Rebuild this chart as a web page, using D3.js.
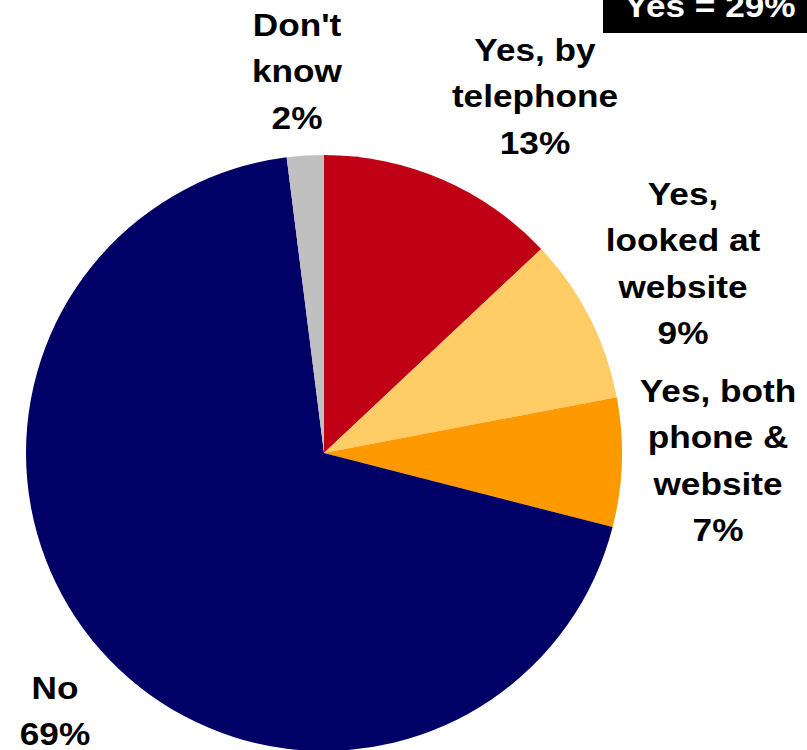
<!DOCTYPE html>
<html>
<head>
<meta charset="utf-8">
<script src="https://cdn.jsdelivr.net/npm/d3@7"></script>
<style>
  html, body { margin: 0; padding: 0; background: #fff; overflow: hidden; }
  svg { display: block; }
</style>
</head>
<body>
<svg id="chart" width="807" height="750"></svg>
<script>
const categories = ["Yes, by telephone", "Yes, looked at website", "Yes, both phone & website", "No", "Don't know"];
const values = [13, 9, 7, 69, 2];
const colors = ["#C00014", "#FFCC66", "#FF9900", "#000066", "#C0C0C0"];
const labelLines = [
  ["Yes, by", "telephone", "13%"],
  ["Yes,", "looked at", "website", "9%"],
  ["Yes, both", "phone &", "website", "7%"],
  ["No", "69%"],
  ["Don't", "know", "2%"]
];
const labelPos = [[535, 61], [683, 205], [718, 402], [55, 699], [297, 36]];
const totalYes = "Yes = 29%";

const svg = d3.select("#chart");
const cx = 324, cy = 453, r = 298;

const pie = d3.pie().sort(null).value(d => d)(values);
const arc = d3.arc().innerRadius(0).outerRadius(r);

svg.append("g").attr("transform", `translate(${cx},${cy})`)
  .selectAll("path").data(pie).join("path")
  .attr("d", arc)
  .attr("fill", (d, i) => colors[i]);

const font = "'Liberation Sans', Arial, sans-serif";
const sx = 1.1;
labelLines.forEach((lines, i) => {
  const t = svg.append("text")
    .attr("transform", `translate(${labelPos[i][0]},0) scale(${sx},1)`)
    .attr("text-anchor", "middle")
    .attr("font-family", font)
    .attr("font-weight", "bold")
    .attr("font-size", 32)
    .attr("fill", "#000");
  lines.forEach((ln, j) => {
    t.append("tspan").attr("x", 0).attr("y", labelPos[i][1] + j * 46.5).text(ln);
  });
});

svg.append("rect").attr("x", 603).attr("y", -5).attr("width", 210).attr("height", 38).attr("fill", "#000");
svg.append("text")
  .attr("transform", `translate(710,0) scale(${sx},1)`)
  .attr("x", 0).attr("y", 17)
  .attr("text-anchor", "middle")
  .attr("font-family", font).attr("font-weight", "bold").attr("font-size", 32)
  .attr("fill", "#fff").text(totalYes);
</script>
</body>
</html>
